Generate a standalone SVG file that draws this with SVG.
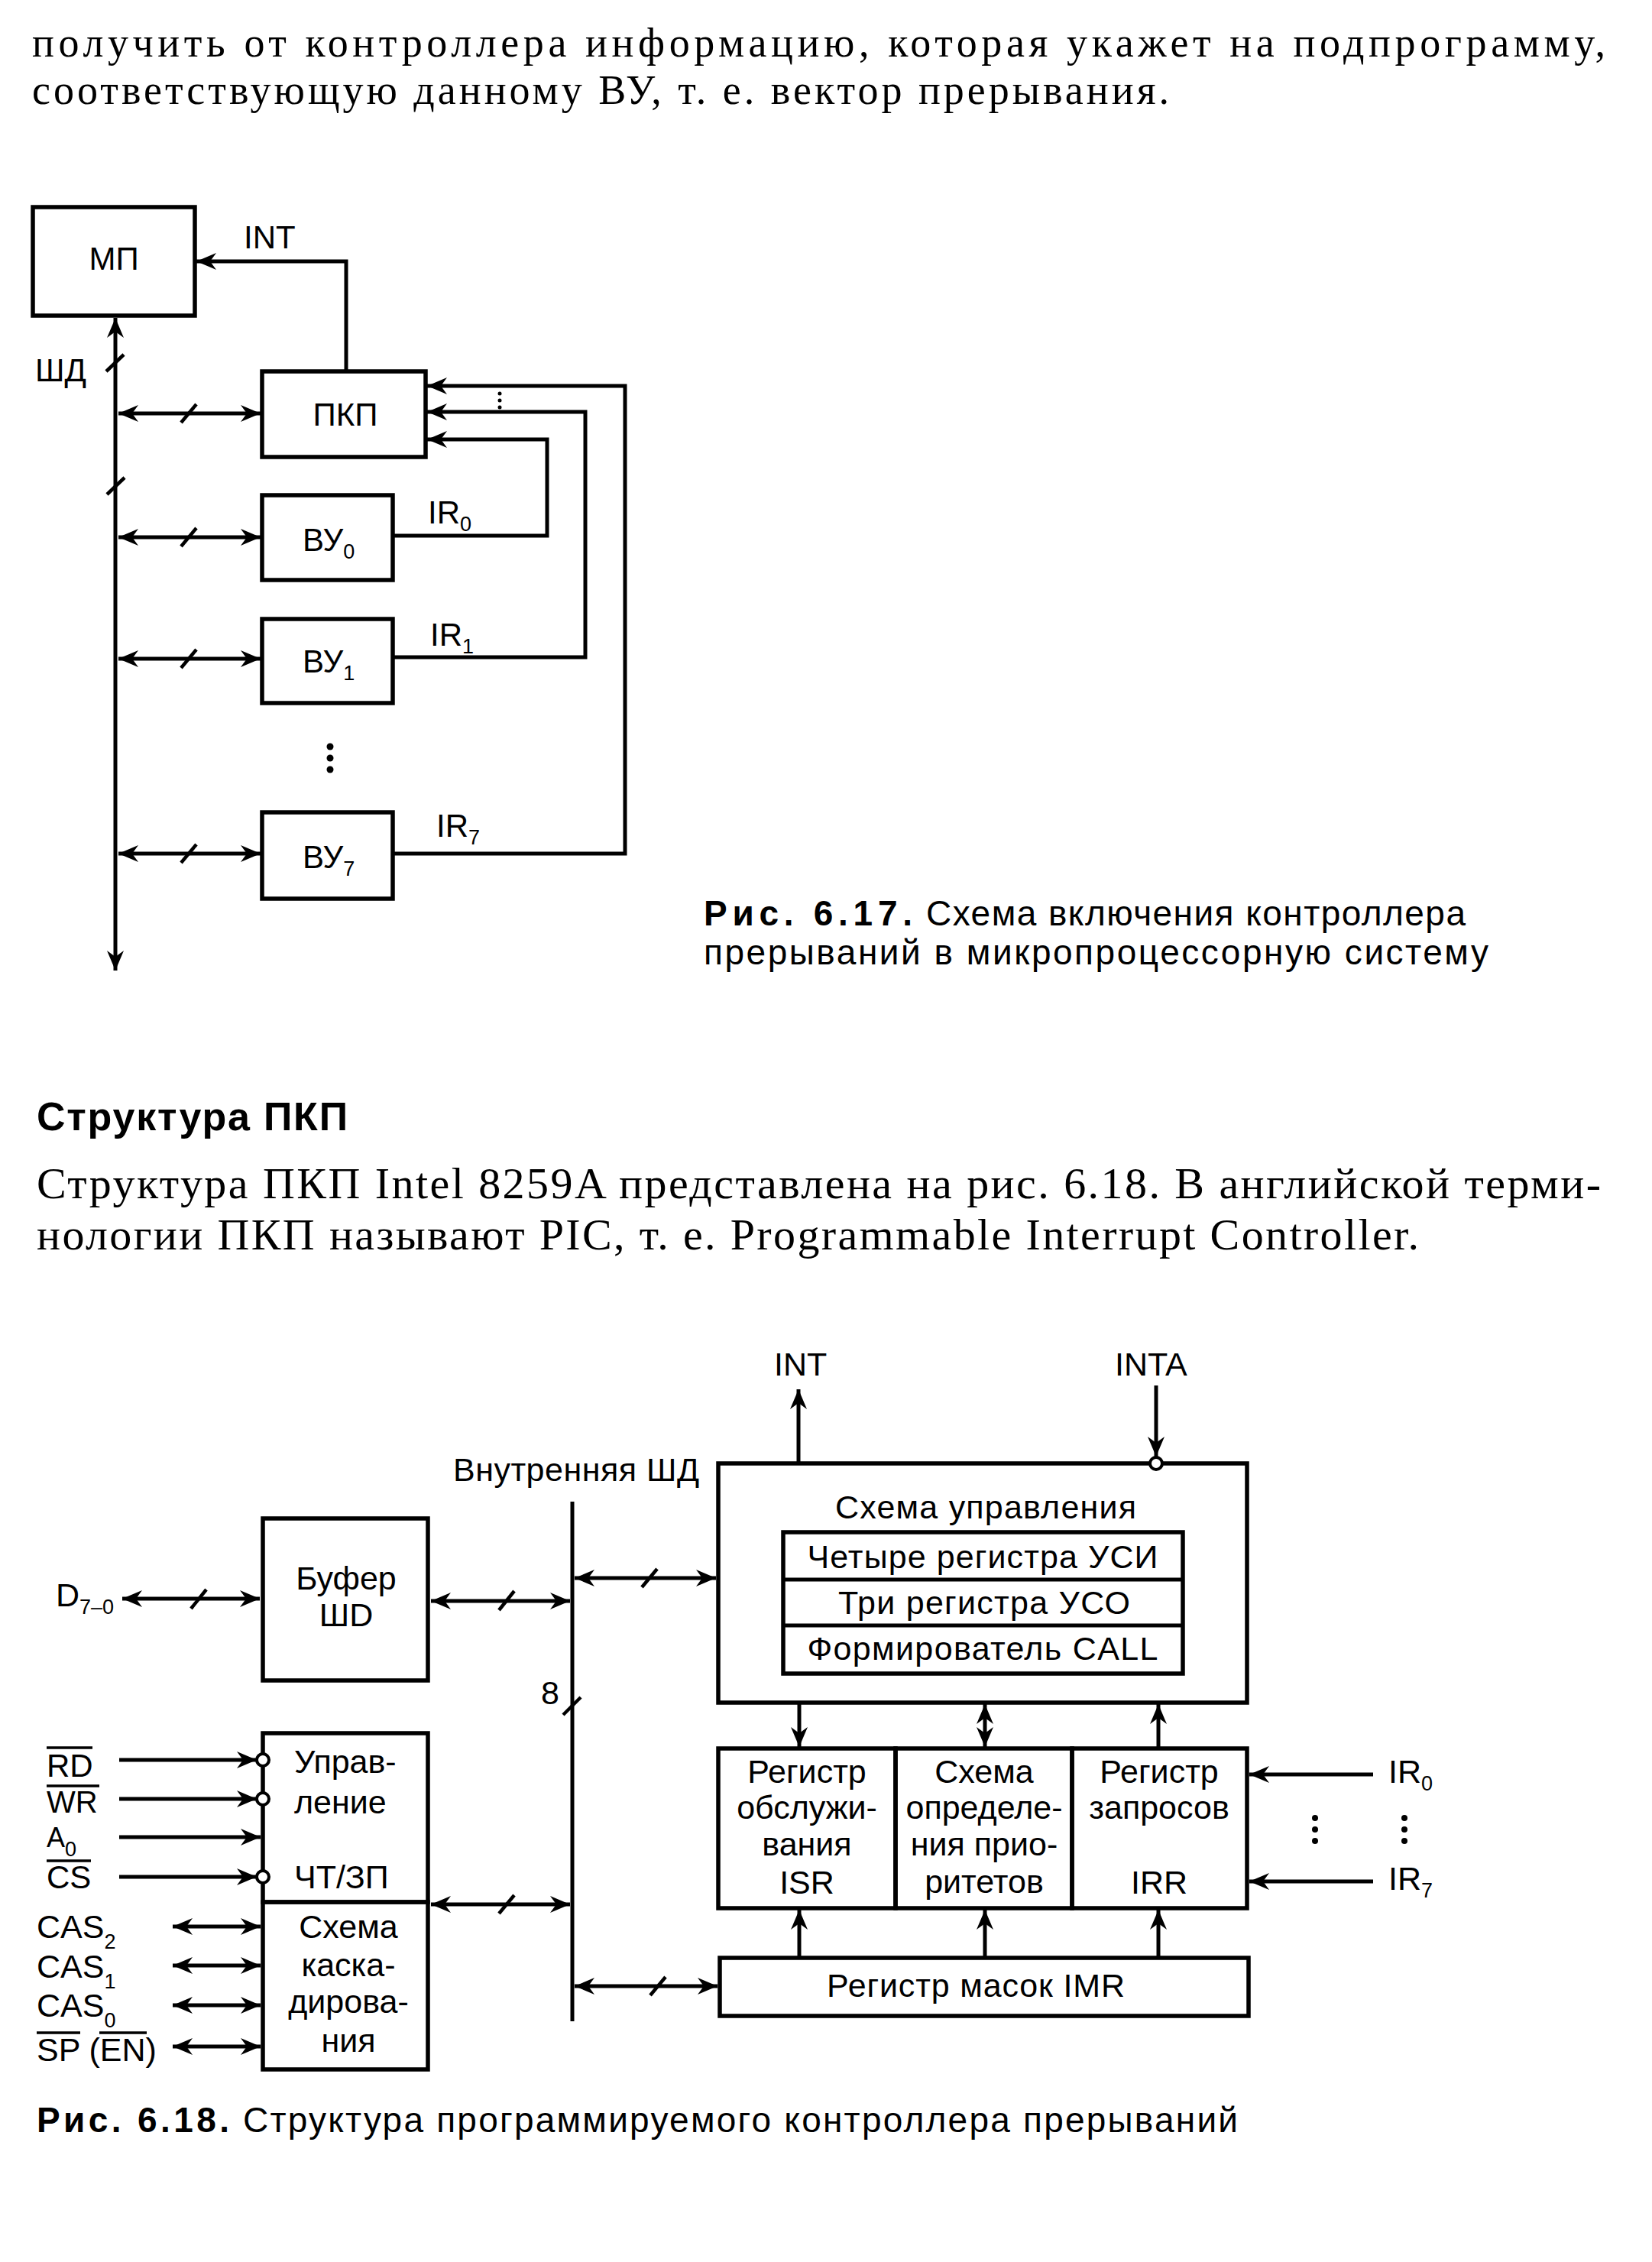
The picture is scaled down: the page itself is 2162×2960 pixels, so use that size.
<svg xmlns="http://www.w3.org/2000/svg" width="2162" height="2960" viewBox="0 0 2162 2960">
<style>
.bg{fill:#fff}
.box{fill:none;stroke:#000;stroke-width:5.5}
.ln{fill:none;stroke:#000;stroke-width:5}
.arr{marker-end:url(#ah)}
.dbl{marker-start:url(#ah);marker-end:url(#ah)}
.sl{stroke:#000;stroke-width:4.5;fill:none}
.ov{stroke:#000;stroke-width:3.5;fill:none}
.dot{fill:#000}
.inv{fill:#fff;stroke:#000;stroke-width:4}
.t{font-family:"Liberation Sans",Arial,sans-serif;font-size:42px;fill:#000}
.t2{font-family:"Liberation Sans",Arial,sans-serif;font-size:43px;fill:#000}
.c{text-anchor:middle}
.sub{font-size:27px}
.serif{font-family:"Liberation Serif","Times New Roman",serif;font-size:58px;fill:#000}
.serif1{font-family:"Liberation Serif","Times New Roman",serif;font-size:54px;fill:#000}
.head{font-family:"Liberation Sans",Arial,sans-serif;font-size:52px;font-weight:bold;fill:#000}
.cap{font-family:"Liberation Sans",Arial,sans-serif;font-size:46px;fill:#000}
.capb{font-family:"Liberation Sans",Arial,sans-serif;font-size:46px;font-weight:bold;fill:#000}
</style>
<defs>
<marker id="ah" viewBox="-28 -13 30 26" refX="0" refY="0" markerWidth="30" markerHeight="26" markerUnits="userSpaceOnUse" orient="auto-start-reverse">
<path d="M0,0 L-26,-11 L-18,0 L-26,11 Z" fill="#000"/>
</marker>
</defs>
<rect class="bg" x="0" y="0" width="2162" height="2960"/>

<g id="text-top">
<text class="serif1" x="42" y="74" textLength="2059">получить от контроллера информацию, которая укажет на подпрограмму,</text>
<text class="serif1" x="42" y="136" textLength="1488">соответствующую данному ВУ, т. е. вектор прерывания.</text>
</g>

<!-- Figure 6.17 -->
<g id="n-mp"><rect class="box" x="43" y="271" width="212" height="142"/><text class="t c" x="149" y="353">МП</text></g>
<g id="n-pkp"><rect class="box" x="343" y="486" width="214" height="112"/><text class="t c" x="452" y="557">ПКП</text></g>
<g id="n-vu0"><rect class="box" x="343" y="648" width="171" height="111"/><text class="t" x="396" y="721">ВУ<tspan class="sub" dy="10">0</tspan></text></g>
<g id="n-vu1"><rect class="box" x="343" y="810" width="171" height="110"/><text class="t" x="396" y="880">ВУ<tspan class="sub" dy="10">1</tspan></text></g>
<g id="n-vu7"><rect class="box" x="343" y="1063" width="171" height="113"/><text class="t" x="396" y="1136">ВУ<tspan class="sub" dy="10">7</tspan></text></g>

<g id="labels-617">
<text class="t" x="319" y="325">INT</text>
<text class="t" x="46" y="499">ШД</text>
<text class="t" x="560" y="685">IR<tspan class="sub" dy="10">0</tspan></text>
<text class="t" x="563" y="845">IR<tspan class="sub" dy="10">1</tspan></text>
<text class="t" x="571" y="1095">IR<tspan class="sub" dy="10">7</tspan></text>
<circle class="dot" cx="654" cy="515" r="2.5"/><circle class="dot" cx="654" cy="524" r="2.5"/><circle class="dot" cx="654" cy="533" r="2.5"/>
<circle class="dot" cx="432" cy="977" r="4.5"/><circle class="dot" cx="432" cy="992" r="4.5"/><circle class="dot" cx="432" cy="1007" r="4.5"/>
</g>

<g id="connectors-617">
<polyline class="ln arr" points="453,486 453,342 257,342"/>
<line class="ln dbl" x1="151" y1="1270" x2="151" y2="416"/>
<line class="sl" x1="139" y1="486" x2="162" y2="464"/>
<line class="sl" x1="140" y1="647" x2="163" y2="625"/>
<line class="ln dbl" x1="155" y1="541" x2="341" y2="541"/>
<line class="sl" x1="237" y1="553" x2="257" y2="529"/>
<line class="ln dbl" x1="155" y1="703" x2="341" y2="703"/>
<line class="sl" x1="237" y1="715" x2="257" y2="691"/>
<line class="ln dbl" x1="155" y1="862" x2="341" y2="862"/>
<line class="sl" x1="237" y1="874" x2="257" y2="850"/>
<line class="ln dbl" x1="155" y1="1117" x2="341" y2="1117"/>
<line class="sl" x1="237" y1="1129" x2="257" y2="1105"/>
<polyline class="ln arr" points="514,701 716,701 716,575 559,575"/>
<polyline class="ln arr" points="514,860 766,860 766,539 559,539"/>
<polyline class="ln arr" points="514,1117 818,1117 818,505 559,505"/>
</g>

<g id="caption-617">
<text class="capb" x="921" y="1211" textLength="273">Рис. 6.17.</text>
<text class="cap" x="1212" y="1211" textLength="706">Схема включения контроллера</text>
<text class="cap" x="921" y="1262" textLength="1027">прерываний в микропроцессорную систему</text>
</g>

<g id="text-mid">
<text class="head" x="48" y="1479" textLength="407">Структура ПКП</text>
<text class="serif" x="48" y="1568" textLength="2047">Структура ПКП Intel 8259A представлена на рис. 6.18. В английской терми-</text>
<text class="serif" x="48" y="1635" textLength="1809">нологии ПКП называют PIC, т. е. Programmable Interrupt Controller.</text>
</g>

<!-- Figure 6.18 -->
<g id="n-buf"><rect class="box" x="344" y="1987" width="216" height="212"/>
<text class="t2 c" x="453" y="2080">Буфер</text><text class="t2 c" x="453" y="2128">ШD</text></g>

<g id="n-ctl"><rect class="box" x="940" y="1915" width="692" height="313"/>
<text class="t2 c" x="1290" y="1987" textLength="394">Схема управления</text>
<rect class="box" x="1025" y="2005" width="523" height="185"/>
<line class="ln" x1="1025" y1="2067" x2="1548" y2="2067"/>
<line class="ln" x1="1025" y1="2127" x2="1548" y2="2127"/>
<text class="t2 c" x="1286" y="2052" textLength="459">Четыре регистра УСИ</text>
<text class="t2 c" x="1288" y="2112" textLength="382">Три регистра УСО</text>
<text class="t2 c" x="1286" y="2172" textLength="459">Формирователь CALL</text>
</g>

<g id="n-rw"><rect class="box" x="344" y="2268" width="216" height="221"/>
<text class="t2" x="385" y="2320">Управ-</text>
<text class="t2" x="385" y="2373">ление</text>
<text class="t2" x="385" y="2471">ЧТ/ЗП</text>
</g>
<g id="n-cas"><rect class="box" x="344" y="2489" width="216" height="219"/>
<text class="t2 c" x="456" y="2536">Схема</text>
<text class="t2 c" x="456" y="2586">каска-</text>
<text class="t2 c" x="456" y="2634">дирова-</text>
<text class="t2 c" x="456" y="2685">ния</text>
</g>

<g id="n-isr"><rect class="box" x="940" y="2288" width="232" height="209"/>
<text class="t2 c" x="1056" y="2333">Регистр</text>
<text class="t2 c" x="1056" y="2380">обслужи-</text>
<text class="t2 c" x="1056" y="2428">вания</text>
<text class="t2 c" x="1056" y="2478">ISR</text>
</g>
<g id="n-prio"><rect class="box" x="1172" y="2288" width="231" height="209"/>
<text class="t2 c" x="1288" y="2333">Схема</text>
<text class="t2 c" x="1288" y="2380">определе-</text>
<text class="t2 c" x="1288" y="2428">ния прио-</text>
<text class="t2 c" x="1288" y="2477">ритетов</text>
</g>
<g id="n-irr"><rect class="box" x="1403" y="2288" width="229" height="209"/>
<text class="t2 c" x="1517" y="2333">Регистр</text>
<text class="t2 c" x="1517" y="2380">запросов</text>
<text class="t2 c" x="1517" y="2478">IRR</text>
</g>
<g id="n-imr"><rect class="box" x="942" y="2562" width="692" height="76"/>
<text class="t2 c" x="1277" y="2613" textLength="390">Регистр масок IMR</text>
</g>

<g id="labels-618">
<text class="t2" x="1013" y="1800">INT</text>
<text class="t2" x="1459" y="1800">INTA</text>
<text class="t2" x="593" y="1938" textLength="322">Внутренняя ШД</text>
<text class="t2" x="708" y="2230">8</text>
<text class="t2" x="73" y="2102">D<tspan class="sub" dy="10">7–0</tspan></text>
<text class="t" x="61" y="2325">RD</text>
<line class="ov" x1="61" y1="2287" x2="121" y2="2287"/>
<text class="t" x="61" y="2372" style="font-size:40px">WR</text>
<line class="ov" x1="61" y1="2337" x2="130" y2="2337"/>
<text class="t" x="61" y="2417" style="font-size:36px">A<tspan class="sub" dy="12">0</tspan></text>
<text class="t" x="61" y="2471">CS</text>
<line class="ov" x1="61" y1="2435" x2="119" y2="2435"/>
<text class="t2" x="48" y="2536">CAS<tspan class="sub" dy="14">2</tspan></text>
<text class="t2" x="48" y="2588">CAS<tspan class="sub" dy="14">1</tspan></text>
<text class="t2" x="48" y="2639">CAS<tspan class="sub" dy="14">0</tspan></text>
<text class="t2" x="48" y="2697">SP (EN)</text>
<line class="ov" x1="48" y1="2660" x2="105" y2="2660"/>
<line class="ov" x1="130" y1="2660" x2="192" y2="2660"/>
<text class="t2" x="1817" y="2333">IR<tspan class="sub" dy="10">0</tspan></text>
<text class="t2" x="1817" y="2473">IR<tspan class="sub" dy="10">7</tspan></text>
<circle class="dot" cx="1721" cy="2379" r="4"/><circle class="dot" cx="1721" cy="2394" r="4"/><circle class="dot" cx="1721" cy="2409" r="4"/>
<circle class="dot" cx="1838" cy="2379" r="4"/><circle class="dot" cx="1838" cy="2394" r="4"/><circle class="dot" cx="1838" cy="2409" r="4"/>
</g>

<g id="connectors-618">
<line class="ln" x1="749" y1="1965" x2="749" y2="2645"/>
<line class="sl" x1="737" y1="2244" x2="760" y2="2221"/>
<line class="ln arr" x1="1045" y1="1915" x2="1045" y2="1818"/>
<line class="ln arr" x1="1513" y1="1813" x2="1513" y2="1906"/>
<circle class="inv" cx="1513" cy="1915" r="8"/>
<line class="ln dbl" x1="160" y1="2092" x2="340" y2="2092"/>
<line class="sl" x1="250" y1="2105" x2="270" y2="2080"/>
<line class="ln dbl" x1="564" y1="2095" x2="746" y2="2095"/>
<line class="sl" x1="653" y1="2107" x2="673" y2="2082"/>
<line class="ln dbl" x1="752" y1="2065" x2="937" y2="2065"/>
<line class="sl" x1="840" y1="2077" x2="860" y2="2053"/>
<line class="ln dbl" x1="564" y1="2492" x2="746" y2="2492"/>
<line class="sl" x1="653" y1="2504" x2="673" y2="2480"/>
<line class="ln dbl" x1="752" y1="2599" x2="939" y2="2599"/>
<line class="sl" x1="851" y1="2611" x2="871" y2="2587"/>
<line class="ln arr" x1="156" y1="2303" x2="336" y2="2303"/>
<circle class="inv" cx="344" cy="2303" r="8"/>
<line class="ln arr" x1="156" y1="2354" x2="336" y2="2354"/>
<circle class="inv" cx="344" cy="2354" r="8"/>
<line class="ln arr" x1="156" y1="2404" x2="341" y2="2404"/>
<line class="ln arr" x1="156" y1="2456" x2="336" y2="2456"/>
<circle class="inv" cx="344" cy="2456" r="8"/>
<line class="ln dbl" x1="226" y1="2521" x2="341" y2="2521"/>
<line class="ln dbl" x1="226" y1="2572" x2="341" y2="2572"/>
<line class="ln dbl" x1="226" y1="2624" x2="341" y2="2624"/>
<line class="ln dbl" x1="226" y1="2678" x2="341" y2="2678"/>
<line class="ln arr" x1="1046" y1="2228" x2="1046" y2="2286"/>
<line class="ln dbl" x1="1289" y1="2230" x2="1289" y2="2286"/>
<line class="ln arr" x1="1516" y1="2288" x2="1516" y2="2230"/>
<line class="ln arr" x1="1046" y1="2562" x2="1046" y2="2499"/>
<line class="ln arr" x1="1289" y1="2562" x2="1289" y2="2499"/>
<line class="ln arr" x1="1516" y1="2562" x2="1516" y2="2499"/>
<line class="ln arr" x1="1797" y1="2322" x2="1635" y2="2322"/>
<line class="ln arr" x1="1797" y1="2462" x2="1635" y2="2462"/>
</g>

<g id="caption-618">
<text class="capb" x="48" y="2790" textLength="252">Рис. 6.18.</text>
<text class="cap" x="318" y="2790" textLength="1302">Структура программируемого контроллера прерываний</text>
</g>
</svg>
